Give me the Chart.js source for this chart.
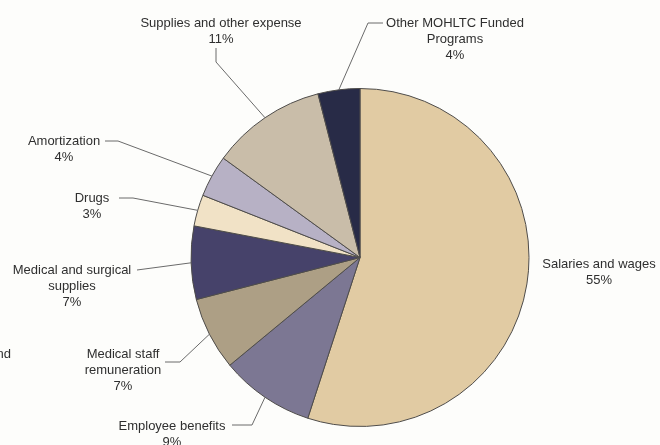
<!DOCTYPE html>
<html>
<head>
<meta charset="utf-8">
<style>
  html, body { margin: 0; padding: 0; background: #fdfdfb; }
  #wrap { width: 660px; height: 445px; position: relative; }
  canvas { display: block; }
</style>
<script src="https://cdn.jsdelivr.net/npm/chart.js@4/dist/chart.umd.min.js"></script>
</head>
<body>
<div id="wrap"><canvas id="c" width="660" height="445"></canvas></div>
<script>
// Hospital expense breakdown
const categories = [
  'Salaries and wages',
  'Employee benefits',
  'Medical staff\nremuneration',
  'Medical and surgical\nsupplies',
  'Drugs',
  'Amortization',
  'Supplies and other expense',
  'Other MOHLTC Funded\nPrograms'
];
const shares = [55, 9, 7, 7, 3, 4, 11, 4];
const sliceColors = [
  '#e1cba3', '#7c7793', '#ad9f85', '#46426a',
  '#f1e2c6', '#b7b1c5', '#c9bda9', '#282b47'
];

// Label placement: text centre, and the elbow points of each leader line
const labelLayout = [
  { x: 599, y: 264, leader: null },
  { x: 172, y: 426, leader: [[232, 425], [252, 425]] },
  { x: 123, y: 354, leader: [[165, 362], [180, 362]] },
  { x: 72,  y: 270, leader: [[137, 270]] },
  { x: 92,  y: 198, leader: [[119, 198], [133, 198]] },
  { x: 64,  y: 141, leader: [[105, 141], [118, 141]] },
  { x: 221, y: 23,  leader: [[216, 48], [216, 62]] },
  { x: 455, y: 23,  leader: [[383, 23], [368, 23]] }
];

const FONT = '13px "Liberation Sans", Arial, sans-serif';
const LINE_H = 16;

const calloutPlugin = {
  id: 'callouts',
  afterDraw(chart) {
    const ctx = chart.ctx;
    const meta = chart.getDatasetMeta(0);
    ctx.save();
    ctx.font = FONT;
    ctx.textAlign = 'center';
    ctx.textBaseline = 'middle';
    meta.data.forEach((arc, i) => {
      const p = arc.getProps(['x', 'y', 'startAngle', 'endAngle', 'outerRadius'], true);
      const mid = (p.startAngle + p.endAngle) / 2;
      const ex = p.x + Math.cos(mid) * p.outerRadius;
      const ey = p.y + Math.sin(mid) * p.outerRadius;
      const lay = labelLayout[i];
      if (lay.leader) {
        ctx.strokeStyle = '#6a6a6a';
        ctx.lineWidth = 1;
        ctx.beginPath();
        ctx.moveTo(lay.leader[0][0], lay.leader[0][1]);
        for (let k = 1; k < lay.leader.length; k++) ctx.lineTo(lay.leader[k][0], lay.leader[k][1]);
        ctx.lineTo(ex, ey);
        ctx.stroke();
      }
      const lines = categories[i].split('\n').concat([shares[i] + '%']);
      ctx.fillStyle = '#2f2f2f';
      lines.forEach((t, k) => ctx.fillText(t, lay.x, lay.y + k * LINE_H));
    });
    // fragment of a neighbouring caption at the page edge
    ctx.textAlign = 'right';
    ctx.fillText('and', 11, 354);
    ctx.restore();
  }
};

new Chart(document.getElementById('c'), {
  type: 'pie',
  data: {
    labels: categories,
    datasets: [{
      data: shares,
      backgroundColor: sliceColors,
      borderColor: '#4e4c4a',
      borderWidth: 1
    }]
  },
  options: {
    responsive: false,
    devicePixelRatio: 1,
    animation: false,
    layout: { padding: { left: 190, right: 130, top: 88, bottom: 18 } },
    plugins: { legend: { display: false }, tooltip: { enabled: false } }
  },
  plugins: [calloutPlugin]
});
</script>
</body>
</html>
